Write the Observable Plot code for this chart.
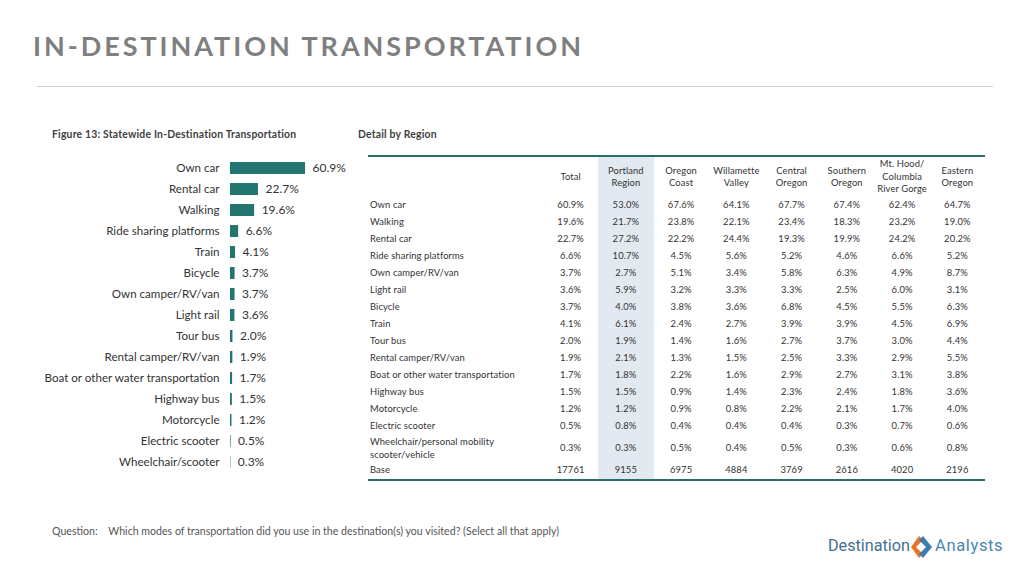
<!DOCTYPE html>
<html><head><meta charset="utf-8">
<script src="https://cdn.jsdelivr.net/npm/d3@7"></script>
<script src="https://cdn.jsdelivr.net/npm/@observablehq/plot@0.6"></script>
<style>
body{margin:0;width:1024px;height:576px;background:#fff;position:relative;overflow:hidden;font-family:Lato,"Open Sans",sans-serif;color:#333}
.abs{position:absolute}
#title{left:33px;top:29px;font-size:27px;font-weight:700;letter-spacing:2.95px;color:#7f7f7f;white-space:nowrap}
#rule{left:37px;top:86px;width:956px;height:1px;background:#d0d0d0}
.fig{top:128px;font-size:10.4px;font-weight:700;color:#404040;white-space:nowrap;letter-spacing:0.2px}
#tbl{left:368px;top:155px;width:617px;border-collapse:collapse;font-size:9.4px;color:#333;table-layout:fixed;letter-spacing:0.1px}
#tbl td,#tbl th{padding:0;text-align:center;font-weight:400;line-height:12.5px}
#tbl th{height:40px;vertical-align:middle}
#tbl td{height:17px;vertical-align:middle}
#tbl td.lab{text-align:left;padding-left:2px}
#tbl tr.tall td{height:27px}
#tbl .hl{background:#e3e9f0}
#q{left:52px;top:525px;font-size:10.6px;color:#555;white-space:nowrap}
</style></head><body>
<div id="title" class="abs">IN-DESTINATION TRANSPORTATION</div>
<div id="rule" class="abs"></div>
<div class="abs fig" style="left:52px">Figure 13: Statewide In-Destination Transportation</div>
<div class="abs fig" style="left:358px">Detail by Region</div>
<div id="bars" class="abs" style="left:0;top:140px"></div>
<table id="tbl" class="abs"></table>
<div id="q" class="abs">Question:&nbsp;&nbsp;&nbsp;&nbsp;Which modes of transportation did you use in the destination(s) you visited? (Select all that apply)</div>
<svg class="abs" style="left:820px;top:528px" width="200" height="34">
  <text x="8" y="23" font-family="Roboto, Lato, sans-serif" font-size="16.2" fill="#3f6f8f">Destination</text>
  <polygon points="99,8 103,12 96,19 103,26 99,30 91,19" fill="#e8742a"/>
  <polygon points="103,8 112,19 103,30 99,26 106,19 99,12" fill="#3d7cb0"/>
  <text x="115" y="23" font-family="Roboto, Lato, sans-serif" font-size="16.6" letter-spacing="0.6" fill="#4a86b0">Analysts</text>
</svg>
<script>
// Statewide bar chart data
const barModes = ["Own car","Rental car","Walking","Ride sharing platforms","Train","Bicycle","Own camper/RV/van","Light rail","Tour bus","Rental camper/RV/van","Boat or other water transportation","Highway bus","Motorcycle","Electric scooter","Wheelchair/scooter"];
const barValues = [60.9,22.7,19.6,6.6,4.1,3.7,3.7,3.6,2.0,1.9,1.7,1.5,1.2,0.5,0.3];

// Detail by region table data
const regionHeaders = ["Total","Portland<br>Region","Oregon<br>Coast","Willamette<br>Valley","Central<br>Oregon","Southern<br>Oregon","Mt. Hood/<br>Columbia<br>River Gorge","Eastern<br>Oregon"];
const tableModes = ["Own car","Walking","Rental car","Ride sharing platforms","Own camper/RV/van","Light rail","Bicycle","Train","Tour bus","Rental camper/RV/van","Boat or other water transportation","Highway bus","Motorcycle","Electric scooter","Wheelchair/personal mobility<br>scooter/vehicle"];
const total      = [60.9,19.6,22.7,6.6,3.7,3.6,3.7,4.1,2.0,1.9,1.7,1.5,1.2,0.5,0.3];
const portland   = [53.0,21.7,27.2,10.7,2.7,5.9,4.0,6.1,1.9,2.1,1.8,1.5,1.2,0.8,0.3];
const coast      = [67.6,23.8,22.2,4.5,5.1,3.2,3.8,2.4,1.4,1.3,2.2,0.9,0.9,0.4,0.5];
const willamette = [64.1,22.1,24.4,5.6,3.4,3.3,3.6,2.7,1.6,1.5,1.6,1.4,0.8,0.4,0.4];
const central    = [67.7,23.4,19.3,5.2,5.8,3.3,6.8,3.9,2.7,2.5,2.9,2.3,2.2,0.4,0.5];
const southern   = [67.4,18.3,19.9,4.6,6.3,2.5,4.5,3.9,3.7,3.3,2.7,2.4,2.1,0.3,0.3];
const mtHood     = [62.4,23.2,24.2,6.6,4.9,6.0,5.5,4.5,3.0,2.9,3.1,1.8,1.7,0.7,0.6];
const eastern    = [64.7,19.0,20.2,5.2,8.7,3.1,6.3,6.9,4.4,5.5,3.8,3.6,4.0,0.6,0.8];
const bases      = [17761,9155,6975,4884,3769,2616,4020,2196];

const teal = "#23766f";
const barData = barModes.map((m,i)=>({mode:m,value:barValues[i]}));

const chart = Plot.plot({
  width: 380, height: 345,
  marginLeft: 230, marginRight: 26.8, marginTop: 13, marginBottom: 8,
  x: {domain:[0,100], axis:null},
  y: {domain: barModes, padding: 0.43, round: false, axis: null},
  style: {fontFamily: "Lato, 'Open Sans', sans-serif", background: "transparent"},
  marks: [
    Plot.barX(barData, {x:"value", y:"mode", fill: teal}),
    Plot.ruleX([0], {y1: barModes[0], y2: barModes[barModes.length-1], insetTop:-10, insetBottom:-10, stroke:"#d9d9d9", strokeWidth:1}),
    Plot.text(barData, {x:0, y:"mode", text:"mode", textAnchor:"end", dx:-11, fontSize:11.6, fill:"#333"}),
    Plot.text(barData, {x:"value", y:"mode", text:d=>d.value.toFixed(1)+"%", textAnchor:"start", dx:7, fontSize:12, fill:"#333"})
  ]
});
document.getElementById("bars").appendChild(chart);

// Build table
const cols = [total,portland,coast,willamette,central,southern,mtHood,eastern];
const tbl = document.getElementById("tbl");
let html = '<colgroup><col style="width:175px">' + cols.map(()=>'<col style="width:55.25px">').join('') + '</colgroup>';
html += '<tr style="border-top:2px solid #2b6d68"><th></th>' + regionHeaders.map((h,j)=>`<th class="${j===1?'hl':''}">${h}</th>`).join('') + '</tr>';
tableModes.forEach((m,i)=>{
  const tall = i===tableModes.length-1;
  html += `<tr class="${tall?'tall':''}"><td class="lab">${m}</td>` + cols.map((c,j)=>`<td class="${j===1?'hl':''}">${c[i].toFixed(1)}%</td>`).join('') + '</tr>';
});
html += '<tr style="border-bottom:2px solid #2b6d68"><td class="lab">Base</td>' + bases.map((b,j)=>`<td class="${j===1?'hl':''}">${b}</td>`).join('') + '</tr>';
tbl.innerHTML = html;
</script>
</body></html>
